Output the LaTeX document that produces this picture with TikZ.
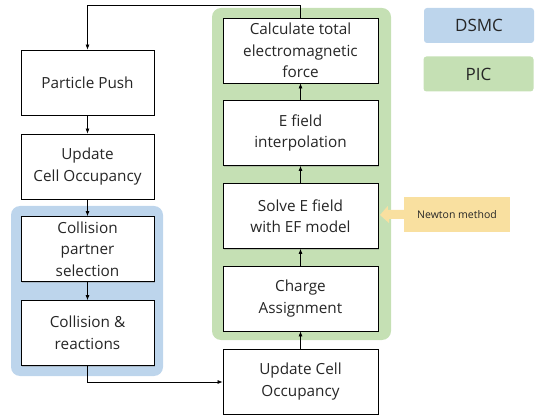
\documentclass[tikz,border=0pt]{standalone}
\usepackage{fontspec}
\setmainfont{Open Sans}
\usetikzlibrary{arrows.meta,shadows}
\definecolor{dsmcblue}{HTML}{BDD5EC}
\definecolor{picgreen}{HTML}{C5E0B4}
\definecolor{newtony}{HTML}{F9E0A0}
\definecolor{txt}{HTML}{262626}
\tikzset{
  stepbox/.style={draw=black, line width=0.8pt, fill=white, align=center,
    font=\fontsize{15.3}{21.5}\selectfont, text=txt, inner sep=0pt,
    drop shadow={shadow xshift=1.2pt, shadow yshift=-1.2pt, opacity=0.35, fill=gray}},
  leftbox/.style={stepbox, minimum width=133pt, minimum height=65pt},
  rightbox/.style={stepbox, minimum width=155pt, minimum height=65pt},
  conn/.style={line width=0.7pt, -{Latex[length=5pt,width=4pt]}},
  legend/.style={rounded corners=3pt, minimum width=110pt, minimum height=35pt,
    font=\fontsize{17}{20}\selectfont, text=txt, inner sep=0pt},
}
\begin{document}
\begin{tikzpicture}[x=1pt,y=-1pt]
\useasboundingbox (0,0) rectangle (535,419);
% backgrounds
\fill[dsmcblue, rounded corners=9pt] (11,206) rectangle (163,376);
\fill[picgreen, rounded corners=9pt] (212,8) rectangle (391,340);
% left column
\node[leftbox] (push) at (87.5,82.5) {Particle Push};
\node[leftbox] (upd1) at (87.5,166.5) {Update\\Cell Occupancy};
\node[leftbox] (part) at (87.5,249) {Collision\\partner\\selection};
\node[leftbox] (coll) at (87.5,333) {Collision \&\\reactions};
% right column
\node[rightbox] (calc) at (300.5,50.5) {Calculate total\\electromagnetic\\force};
\node[rightbox] (interp) at (300.5,133) {E field\\interpolation};
\node[rightbox] (solve) at (300.5,216) {Solve E field\\with EF model};
\node[rightbox] (charge) at (300.5,298.5) {Charge\\Assignment};
\node[rightbox] (upd2) at (300.5,381.5) {Update Cell\\Occupancy};
% legend
\node[legend, fill=dsmcblue] (dsmc) at (479,25.5) {DSMC};
\node[legend, fill=picgreen] (pic) at (478.5,74) {PIC};
% newton callout
\node[fill=newtony, minimum width=106pt, minimum height=35pt, inner sep=0pt, text=txt,
  font=\fontsize{10.5}{12}\selectfont] (newton) at (457,214.5) {Newton method};
\fill[newtony] (newton.west) ++(0,-4.5) -- ++(-16,0) -- ++(0,-4) -- (380,215)
  -- (389,223) -- (389,219) -- (404,219) -- cycle;
% connectors
\coordinate (topR) at (300.5,5);
\coordinate (topL) at (87.5,5);
\draw[conn] (calc.north) -- (topR) -- (topL) -- (push.north);
\draw[conn] (push) -- (upd1);
\draw[conn] (upd1) -- (part);
\draw[conn] (part) -- (coll);
\coordinate (botL) at (87.5,382);
\draw[conn] (coll.south) -- (botL) -- (upd2.west |- botL);
\draw[conn] (upd2) -- (charge);
\draw[conn] (charge) -- (solve);
\draw[conn] (solve) -- (interp);
\draw[conn] (interp) -- (calc);
\end{tikzpicture}
\end{document}
